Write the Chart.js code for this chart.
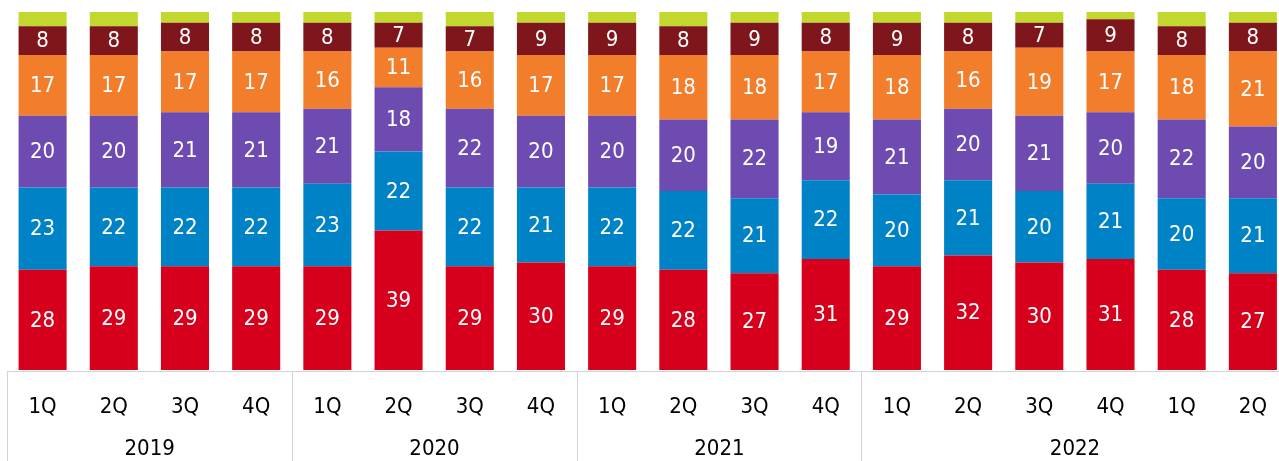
<!DOCTYPE html>
<html>
<head>
<meta charset="utf-8">
<script src="https://cdn.jsdelivr.net/npm/chart.js@4"></script>
<style>
  html, body { margin: 0; padding: 0; background: #fff; overflow: hidden; }
  #wrap { position: relative; width: 1291px; height: 461px; }
</style>
</head>
<body>
<div id="wrap"><canvas id="chart"></canvas></div>
<script>
"use strict";
// Catégories (trimestres) et regroupement par année
const quarters = ['1Q', '2Q', '3Q', '4Q', '1Q', '2Q', '3Q', '4Q', '1Q', '2Q', '3Q', '4Q', '1Q', '2Q', '3Q', '4Q', '1Q', '2Q'];
const years = ['2019', '2020', '2021', '2022'];
const yearSizes = [4, 4, 4, 6];

// Séries (du bas vers le haut)
const redValues = [28, 29, 29, 29, 29, 39, 29, 30, 29, 28, 27, 31, 29, 32, 30, 31, 28, 27];
const blueValues = [23, 22, 22, 22, 23, 22, 22, 21, 22, 22, 21, 22, 20, 21, 20, 21, 20, 21];
const purpleValues = [20, 20, 21, 21, 21, 18, 22, 20, 20, 20, 22, 19, 21, 20, 21, 20, 22, 20];
const orangeValues = [17, 17, 17, 17, 16, 11, 16, 17, 17, 18, 18, 17, 18, 16, 19, 17, 18, 21];
const darkRedValues = [8, 8, 8, 8, 8, 7, 7, 9, 9, 8, 9, 8, 9, 8, 7, 9, 8, 8];
const greenValues = [4, 4, 3, 3, 3, 3, 4, 3, 3, 4, 3, 3, 3, 3, 3, 2.5, 4, 3];

const FONT = '"DejaVu Sans Condensed", "DejaVu Sans", Verdana, sans-serif';

function makeSet(label, data, color, showLabels) {
    return {
        label: label,
        data: data,
        backgroundColor: color,
        borderWidth: 0,
        barPercentage: 0.675,
        categoryPercentage: 1,
        showLabels: showLabels
    };
}

// Étiquettes blanches au centre des segments
const segmentLabels = {
    id: 'segmentLabels',
    afterDatasetsDraw(chart) {
        const ctx = chart.ctx;
        ctx.save();
        ctx.fillStyle = '#ffffff';
        ctx.font = '22px ' + FONT;
        ctx.textAlign = 'center';
        ctx.textBaseline = 'middle';
        chart.data.datasets.forEach((ds, i) => {
            if (!ds.showLabels) return;
            chart.getDatasetMeta(i).data.forEach((bar, j) => {
                const p = bar.getProps(['x', 'y', 'base'], true);
                ctx.fillText(String(ds.data[j]), p.x, (p.y + p.base) / 2 + 1);
            });
        });
        ctx.restore();
    }
};

// Axe à deux niveaux : ligne, séparateurs et années
const yearAxis = {
    id: 'yearAxis',
    afterDraw(chart) {
        const ctx = chart.ctx;
        const xs = chart.scales.x;
        const area = chart.chartArea;
        const half = (xs.getPixelForValue(1) - xs.getPixelForValue(0)) / 2;
        const y0 = area.bottom + 1;
        ctx.save();
        ctx.strokeStyle = '#d4d4d4';
        ctx.lineWidth = 1;
        ctx.beginPath();
        ctx.moveTo(xs.getPixelForValue(0) - half, y0 + 0.5);
        ctx.lineTo(xs.getPixelForValue(quarters.length - 1) + half, y0 + 0.5);
        ctx.stroke();
        ctx.fillStyle = '#000000';
        ctx.font = '22px ' + FONT;
        ctx.textAlign = 'center';
        ctx.textBaseline = 'middle';
        let start = 0;
        years.forEach((yr, k) => {
            const end = start + yearSizes[k] - 1;
            const left = Math.round(xs.getPixelForValue(start) - half) + 0.5;
            const right = xs.getPixelForValue(end) + half;
            ctx.beginPath();
            ctx.moveTo(left, y0);
            ctx.lineTo(left, chart.height);
            ctx.stroke();
            ctx.fillText(yr, (left + right) / 2, area.bottom + 79);
            start = end + 1;
        });
        ctx.restore();
    }
};

new Chart(document.getElementById('chart'), {
    type: 'bar',
    data: {
        labels: quarters,
        datasets: [
            makeSet('A', redValues, '#d6001c', true),
            makeSet('B', blueValues, '#0083c6', true),
            makeSet('C', purpleValues, '#6e4bb0', true),
            makeSet('D', orangeValues, '#f27e2c', true),
            makeSet('E', darkRedValues, '#7e161b', true),
            makeSet('F', greenValues, '#c3d82e', false)
        ]
    },
    options: {
        responsive: true,
        maintainAspectRatio: false,
        animation: false,
        layout: { padding: { top: 12, left: 7, right: 1, bottom: 44 } },
        plugins: {
            legend: { display: false },
            tooltip: { enabled: false }
        },
        scales: {
            x: {
                stacked: true,
                grid: { display: false, drawTicks: false },
                border: { display: false },
                afterFit(scale) { scale.height = 47; },
                ticks: {
                    color: '#000000',
                    font: { family: FONT, size: 22 },
                    padding: 24,
                    maxRotation: 0,
                    autoSkip: false
                }
            },
            y: {
                stacked: true,
                display: false,
                min: 0,
                max: 100
            }
        }
    },
    plugins: [segmentLabels, yearAxis]
});
</script>
</body>
</html>
